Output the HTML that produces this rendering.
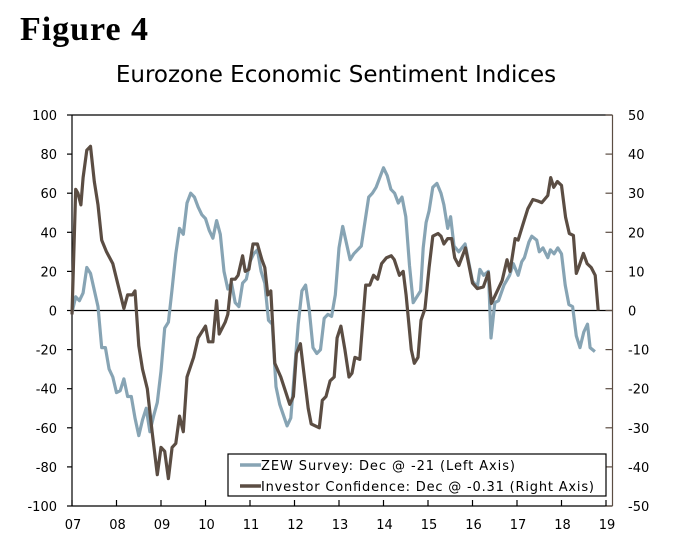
<!DOCTYPE html>
<html><head><meta charset="utf-8"><style>
html,body{margin:0;padding:0;background:#fff;}
svg{display:block;font-family:"DejaVu Sans","Liberation Sans",sans-serif;}
</style></head><body>
<svg id="chart" width="675" height="544" viewBox="0 0 675 544">
<text x="20" y="40" font-family="Liberation Serif, serif" font-weight="bold" font-size="34" fill="#000" textLength="128">Figure 4</text>
<text x="336" y="82" text-anchor="middle" font-size="23" fill="#000">Eurozone Economic Sentiment Indices</text>
<g id="axes"></g>
<g id="series"></g>
<g>
<rect x="228" y="454" width="378" height="42" fill="#fff" stroke="#000" stroke-width="1.2"/>
<line x1="240" y1="465" x2="261" y2="465" stroke="#87a4b4" stroke-width="3.5"/>
<text x="261" y="470" font-size="13" textLength="254">ZEW Survey: Dec @ -21 (Left Axis)</text>
<line x1="240" y1="486" x2="261" y2="486" stroke="#5b4d43" stroke-width="3.5"/>
<text x="261" y="491" font-size="13" textLength="333">Investor Confidence: Dec @ -0.31 (Right Axis)</text>
</g>
</svg>
<script>
const yearLabels=["07","08","09","10","11","12","13","14","15","16","17","18","19"];
const leftTicks=[100,80,60,40,20,0,-20,-40,-60,-80,-100];
const rightTicks=[50,40,30,20,10,0,-10,-20,-30,-40,-50];
const zewMonths=[0,1,2,3,4,5,7,8,9,10,11,12,13,14,15,16,17,18,19,20,21,22,23,24,25,26,27,28,29,30,31,32,33,34,35,36,37,38,39,40,41,42,43,44,45,46,47,48,49,50,51,52,53,54,55,56,58,59,60,61,62,63,64,65,66,67,68,69,70,71,72,73,75,76,78,80,81,82,84,85,86,87,88,89,90,91,92,94,94.7,95.5,96.3,97.3,98.4,99.5,100.3,101.3,102.1,103,104.3,106,108,109.3,110,111,112.3,113,114,115,116.5,118,119,120.3,121.3,122,123.2,124,125.3,126,127,128.3,129,130,131,132,133,134,135,136,137,138,139,139.7,141];
const zewValues=[-1,7,5,9,22,19,2,-19,-19,-30,-34,-42,-41,-35,-44,-44,-55,-64,-56,-50,-62,-54,-47,-31,-9,-6,11,29,42,39,55,60,58,53,49,47,41,37,46,39,20,11,14,4,2,14,16,25,29,31,20,14,-5,-7,-39,-48,-59,-55,-31,-7,10,13,0,-19,-22,-20,-4,-2,-3,8,32,43,26,29,33,58,60,63,73,69,62,60,55,58,48,23,4,10,32,45,51,63,65,60,54,42,48,33,30,34,15,12,21,18,20,-14,4,5,13,18,24,18,25,27,35,38,36,30,32,27,31,29,32,29,13,3,2,-13,-19,-11,-7,-19,-21];
const invMonths=[0,1,1.6,2.4,3,4,5,6,7,8,9.3,11,12.3,14,15,16.3,17,18,19,20.3,21.6,23,24,25,26,27,28,29,30,31,32.8,34,36,36.8,38,39,39.7,41.3,42,43,44,44.8,46,46.7,47.7,48.8,50,51.2,52,52.8,53.6,54.7,56.3,58.7,59.7,60.5,61.6,62.4,63.7,64.5,66.7,67.5,68.5,69.6,70.7,71.5,72.5,73.6,74.7,75.5,76.3,77.6,79.2,80.3,81.3,82.4,83.5,84.8,86.1,86.9,88.3,89.3,90.1,91.5,92.3,93.3,94.1,95.2,96.3,97.3,98.7,99.5,100.3,101.3,102.4,103.2,104.3,106.1,108,109.3,110.9,112.3,113.1,114.1,116,117.3,118.1,119.5,120.3,121.6,122.9,124.3,125.6,126.7,128.3,129.1,129.9,130.9,132,133.1,134.1,135.2,136,136.8,137.9,138.9,140,141.1,141.9];
const invValues=[-1,31,30,27,34,41,42,33,27,18,15,12,7,0.5,4,4,5,-9,-15,-20,-31,-42,-35,-36,-43,-35,-34,-27,-31,-17,-12,-7,-4,-8,-8,2.5,-6,-3,-1,8,8,9,14,10,10.5,17,17,13,11,4,5,-13.5,-17,-24,-22,-11,-8.5,-15,-25,-29,-30,-23,-22,-18,-17,-7,-4,-10,-17,-16,-12,-12.5,6.5,6.5,9,8,12,13.5,14,13,9,10,4,-10,-13.5,-12,-2.5,0.5,11,19,19.7,19,17,18.4,18.4,13.5,11.5,16,7,5.6,6,9.7,1.8,3.8,7.7,13,10,18.4,18,22,26,28.4,28,27.6,29.4,34,31.5,33,32,23.8,19.7,19.2,9.5,11.5,14.6,12,11,9,0];

const NS="http://www.w3.org/2000/svg";
const X0=72, PX_YEAR=44.5, YTOP=115, YBOT=506, XR=612.5;
function xScale(m){return X0+m*PX_YEAR/12;}
function yLeft(v){return YBOT-(v+100)/200*(YBOT-YTOP);}
function yRight(v){return YBOT-(v+50)/100*(YBOT-YTOP);}
function mk(tag,attrs,parent){const e=document.createElementNS(NS,tag);for(const k in attrs)e.setAttribute(k,attrs[k]);parent.appendChild(e);return e;}
const axes=document.getElementById('axes');
const series=document.getElementById('series');

let e;
e=mk('line',{x1:X0,y1:YTOP,x2:XR,y2:YTOP,stroke:'#000','stroke-width':1.2},axes);


e=mk('line',{x1:X0,y1:YBOT,x2:XR,y2:YBOT,stroke:'#000','stroke-width':1.2},axes);


e=mk('line',{x1:X0,y1:yLeft(0),x2:XR,y2:yLeft(0),stroke:'#000','stroke-width':1.2},axes);


e=mk('line',{x1:X0,y1:YTOP,x2:X0,y2:YBOT,stroke:'#000','stroke-width':1.2},axes);


e=mk('line',{x1:XR,y1:YTOP,x2:XR,y2:YBOT,stroke:'#5b4d43','stroke-width':1.2},axes);



leftTicks.forEach(v=>{
  const y=yLeft(v);
  const t=mk('line',{x1:X0-5,y1:y,x2:X0,y2:y,stroke:'#000','stroke-width':1.2},axes);
  
  
  const l=mk('text',{x:57,y:y+5,'text-anchor':'end','font-size':13,fill:'#000'},axes);
  l.textContent=String(v);
  
  
});
rightTicks.forEach(v=>{
  const y=yRight(v);
  const t=mk('line',{x1:XR-7,y1:y,x2:XR,y2:y,stroke:'#5b4d43','stroke-width':1.2},axes);
  
  
  const l=mk('text',{x:628,y:y+5,'text-anchor':'start','font-size':13,fill:'#000'},axes);
  l.textContent=String(v);
  
  
});
yearLabels.forEach((lab,i)=>{
  const x=xScale(i*12);
  const t=mk('line',{x1:x,y1:YBOT-6,x2:x,y2:YBOT,stroke:'#000','stroke-width':1.2},axes);
  
  
  const l=mk('text',{x:x+1,y:529,'text-anchor':'middle','font-size':13,fill:'#000'},axes);
  l.textContent=lab;
  
  
});

function pathD(ms,vs,ys){return ms.map((m,i)=>(i?'L':'M')+xScale(m).toFixed(1)+','+ys(vs[i]).toFixed(1)).join(' ');}
const zew=mk('path',{d:pathD(zewMonths,zewValues,yLeft),fill:'none',stroke:'#87a4b4','stroke-width':3.2,'stroke-linejoin':'round'},series);


const inv=mk('path',{d:pathD(invMonths,invValues,yRight),fill:'none',stroke:'#5b4d43','stroke-width':3.2,'stroke-linejoin':'round'},series);


</script>
</body></html>
